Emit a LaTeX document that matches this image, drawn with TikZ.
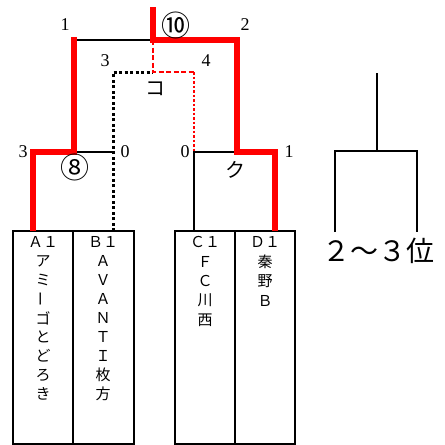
\documentclass[tikz,border=0pt]{standalone}
\usepackage{fontspec}
\setmainfont{Liberation Serif}
\newfontfamily\jp{Noto Sans CJK JP}
\begin{document}
\begin{tikzpicture}[x=1pt,y=-1pt,
  redline/.style={draw=red,line width=6.5pt},
  blkline/.style={draw=black,line width=2.2pt},
  blkdot/.style={draw=black,line width=3pt,dash pattern=on 3pt off 2.5pt},
  reddash/.style={draw=red,line width=2.6pt,dash pattern=on 5pt off 2.5pt},
  reddot/.style={draw=red,line width=2.5pt,dash pattern=on 2.5pt off 2pt},
  teambox/.style={draw=black,line width=2.2pt,inner sep=0pt,outer sep=0pt,minimum width=60pt,minimum height=213pt,anchor=north west},
  boxtxt/.style={font=\jp\fontsize{15}{15}\selectfont,inner sep=0pt},
  score/.style={font=\fontsize{18}{18}\selectfont,inner sep=0pt},
  circ/.style={font=\jp\fontsize{29}{29}\selectfont,inner sep=0pt},
  kana/.style={font=\jp\fontsize{20}{20}\selectfont,inner sep=0pt}]
\path[use as bounding box] (0,0) rectangle (445,445);
% team boxes
\node[teambox] (A) at (13,231) {};
\node[teambox,minimum width=61pt] (B) at (73,231) {};
\node[teambox] (C) at (175,231) {};
\node[teambox] (D) at (235,231) {};
% junction coordinates
\coordinate (top) at (153,7);
\coordinate (f) at (153,40);
\coordinate (fl) at (74,40);
\coordinate (fr) at (237,40);
\coordinate (s) at (153,72);
\coordinate (sl) at (113,72);
\coordinate (sr) at (194,72);
\coordinate (lA) at (33,152);
\coordinate (lm) at (74,152);
\coordinate (lB) at (113,152);
\coordinate (rC) at (194,152);
\coordinate (rm) at (237,152);
\coordinate (rD) at (275,152);
\coordinate (Ain) at (33,231);
\coordinate (Bin) at (113,231);
\coordinate (Cin) at (194,231);
\coordinate (Din) at (275,231);
% black lines
\draw[blkline] (fl) -- (f);
\draw[blkline] (lm) -- (lB);
\draw[blkline] (Cin) -- (rC) -- (rm);
\draw[blkdot] (Bin) -- (sl) -- (s);
% red lines
\draw[reddash] (f) -- (s) -- (sr);
\draw[reddot] (sr) -- (rC);
\draw[redline,line cap=butt] (top) -- (f) -- (fr) -- (rm) -- (rD) -- (Din);
\draw[redline,line cap=butt] (fl) ++(0,-3) -- (lm) -- (lA) -- (Ain);
% scores
\node[score] (n1) at (65,25) {1};
\node[score] (n2) at (245,25) {2};
\node[score] (n3) at (105,61) {3};
\node[score] (n4) at (206,61) {4};
\node[score] (n5) at (23,152) {3};
\node[score] (n6) at (125,152) {0};
\node[score] (n7) at (185,152) {0};
\node[score] (n8) at (289,152) {1};
\node[circ] (m10) at (176,25) {⑩};
\node[circ] (m8) at (75,167) {⑧};
\node[kana] (ko) at (155,89) {コ};
\node[kana] (ku) at (235,170) {ク};
% team names
\foreach \c [count=\i from 0] in {Ａ１,ア,ミ,{\rotatebox[origin=c]{90}{ー}},ゴ,と,ど,ろ,き}
  \node[boxtxt] (ta\i) at (43,242+19*\i) {\c};
\foreach \c [count=\i from 0] in {Ｂ１,Ａ,Ｖ,Ａ,Ｎ,Ｔ,Ｉ,枚,方}
  \node[boxtxt] (tb\i) at (103,242+19*\i) {\c};
\foreach \c [count=\i from 0] in {Ｃ１,Ｆ,Ｃ,川,西}
  \node[boxtxt] (tc\i) at (205,242+19.5*\i) {\c};
\foreach \c [count=\i from 0] in {Ｄ１,秦,野,Ｂ}
  \node[boxtxt] (td\i) at (265,242+19.5*\i) {\c};
% 2-3 place bracket
\node[font=\jp\fontsize{28}{28}\selectfont,inner sep=0pt] (place) at (378,251) {２〜３位};
\coordinate (pt) at (377,73);
\coordinate (pm) at (377,151);
\coordinate (pl) at (335,151);
\coordinate (pr) at (417,151);
\coordinate (plb) at (335,232);
\coordinate (prb) at (417,232);
\draw[blkline] (pt) -- (pm);
\draw[blkline] (plb) -- (pl) -- (pr) -- (prb);
\end{tikzpicture}
\end{document}
